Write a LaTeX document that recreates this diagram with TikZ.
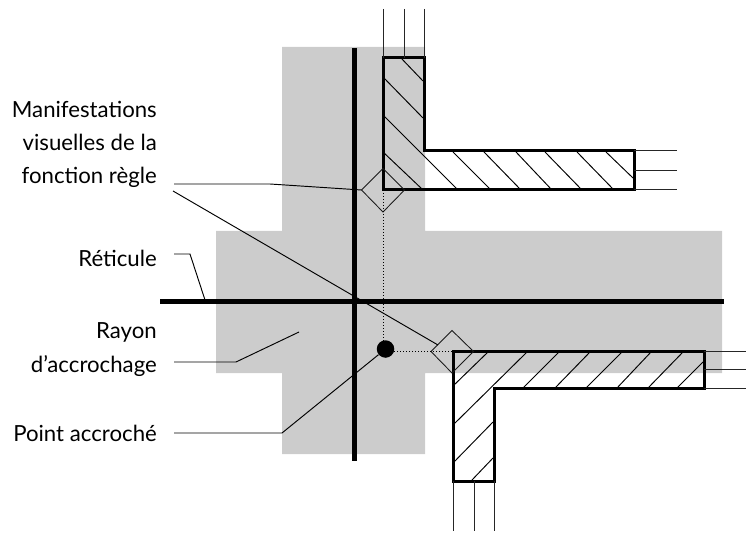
\documentclass[tikz,border=0pt]{standalone}
\usepackage{fontspec}
\setmainfont{Lato}
\definecolor{zonegray}{gray}{0.8}
\tikzset{
  wall/.style={line width=3pt,line join=miter},
  stub/.style={line width=1pt,black!85},
  hatch/.style={line width=0.95pt},
  leader/.style={line width=0.95pt},
  reticle/.style={line width=5.8pt},
  snapbox/.style={line width=0.85pt,black!90},
  dots/.style={line width=1pt,dotted},
  lab/.style={anchor=base east,inner sep=0pt,font=\fontsize{22.2}{26}\selectfont}
}
\begin{document}
\begin{tikzpicture}[x=1pt,y=-1pt]
\useasboundingbox (0,0) rectangle (754,537);

%%Zone
\fill[zonegray] (282,47) -- (425,47) -- (425,231) -- (722,231) -- (722,373) -- (425,373)
  -- (425,454) -- (282,454) -- (282,373) -- (216,373) -- (216,231) -- (282,231) -- cycle;

%%Hatching
\foreach \xa/\ya/\xb/\yb in {401/58/423/81, 383/77/423/118, 383/115/457/189, 383/152/422/189,
    453/152/490/189, 484/152/520/189, 516/152/551/189, 545/152/581/189, 577/152/613/189, 606/152/633/178}
  \draw[hatch] (\xa,\ya) -- (\xb,\yb);
\foreach \xa/\ya/\xb/\yb in {488/352/453/386, 527/352/453/425, 559/352/523/388, 590/352/555/388,
    622/352/586/388, 651/352/617/388, 683/352/648/388, 703/362/677/388, 493/422/453/463, 493/458/472/480}
  \draw[hatch] (\xa,\ya) -- (\xb,\yb);

%%Walls
\draw[wall] (383,58) -- (424.5,58) -- (424.5,151) -- (634,151) -- (634,189.5) -- (383,189.5) -- cycle;
\draw[wall] (453.5,351) -- (704,351) -- (704,388) -- (494.5,388) -- (494.5,481) -- (453.5,481) -- cycle;
\foreach \x in {383,404,424}
  \draw[stub] (\x,9) -- (\x,58);
\foreach \y in {151,171,189.5}
  \draw[stub] (634,\y) -- (677,\y);
\foreach \x in {453.5,474,494.5}
  \draw[stub] (\x,481) -- (\x,531);
\foreach \y in {351,369.5,388}
  \draw[stub] (704,\y) -- (746,\y);

%%Snap marks
\coordinate (snapup) at (383,190);
\coordinate (snaplow) at (452,351.5);
\draw[snapbox] (383,168.5) coordinate (upt) -- (404.5,190) -- (383,212) -- (361.5,190) coordinate (upl) -- cycle;
\draw[snapbox] (452,330.5) -- (473.5,351.5) -- (452,373) -- (431,351.5) -- cycle;
\coordinate (lowside) at (438,345);

%%Hit point
\node (hit) [circle,fill=black,inner sep=0pt,minimum size=17.5pt] at (385.5,349) {};
\draw[dots] (383,190) -- (hit.north -| snapup);
\draw[dots] (hit.east |- snaplow) -- (453,351.5);

%%Label
\node (mani) [lab] at (157,118) {Manifestations};
\node (visu) [lab] at (157,151) {visuelles de la};
\node (fonc) [lab] at (157,184) {fonction règle};
\node (reti) [lab] at (157,266) {Réticule};
\node (rayo) [lab] at (157,338) {Rayon};
\node (accr) [lab] at (157,372) {d'accrochage};
\node (poin) [lab] at (157,441) {Point accroché};

%%Leaders
\coordinate (fonca) at (174,184);
\coordinate (foncb) at (173,191);
\coordinate (retia) at (174,254);
\coordinate (reticross) at (205,300);
\coordinate (accra) at (174,362);
\coordinate (zonept) at (299,332);
\coordinate (poina) at (174,433);
\draw[leader] (fonca) -- (270,184) -- (upl);
\draw[leader] (foncb) -- (lowside);
\draw[leader] (retia) -- (190,254) -- (reticross);
\draw[leader] (accra) -- (236,362) -- (zonept);
\draw[leader] (poina) -- (282,433) -- (hit);

%%Reticle
\draw[reticle] (354.5,48) -- (354.5,461);
\draw[reticle] (160,301.5) -- (724,301.5);
\end{tikzpicture}
\end{document}
